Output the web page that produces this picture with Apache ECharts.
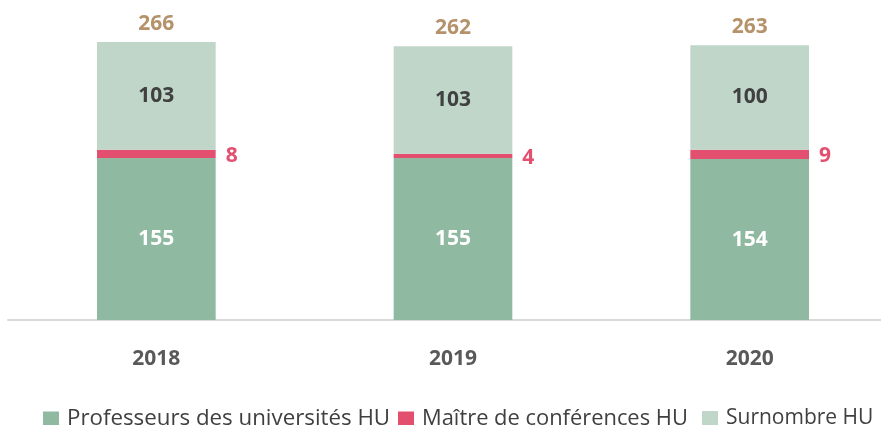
<!DOCTYPE html>
<html><head><meta charset="utf-8">
<script src="https://cdn.jsdelivr.net/npm/echarts@6/dist/echarts.min.js"></script>
<style>html,body{margin:0;padding:0;background:#fff;overflow:hidden}#c{width:898px;height:425px}</style>
</head><body><div id="c"></div>
<script>
const categories = ['2018', '2019', '2020'];
const professeurs = [155, 155, 154];
const maitres = [8, 4, 9];
const surnombre = [103, 103, 100];
const totals = [266, 262, 263];
const seriesNames = ['Professeurs des universités HU', 'Maître de conférences HU', 'Surnombre HU'];

const FONT = '"Open Sans", sans-serif';
const legendLefts = [43, 398, 702];
const legendSizes = [22.3, 21.9, 21];
const chart = echarts.init(document.getElementById('c'));
chart.setOption({
  animation: false,
  textStyle: { fontFamily: FONT },
  grid: { left: 8, right: 0, top: 6.5, height: 313.5, containLabel: false },
  xAxis: {
    type: 'category', data: categories,
    axisLine: { lineStyle: { color: '#d9d9d9', width: 2 } },
    axisTick: { show: false },
    axisLabel: { color: '#595959', fontWeight: 'bold', fontSize: 21, margin: 29, fontFamily: FONT }
  },
  yAxis: { type: 'value', min: 0, max: 300, show: false, splitLine: { show: false } },
  legend: seriesNames.map((n, i) => ({
    data: [n], top: 408, left: legendLefts[i], padding: 0, itemWidth: 16, itemHeight: 15,
    icon: 'rect', selectedMode: false,
    textStyle: { color: '#404040', fontSize: legendSizes[i], fontFamily: FONT, padding: [0, 0, 0, 3] }
  })),
  series: [
    { name: seriesNames[0], type: 'bar', stack: 't', data: professeurs, barWidth: '40%',
      itemStyle: { color: '#8fb9a0' },
      label: { show: true, position: 'inside', color: '#fff', fontWeight: 'bold', fontSize: 21, fontFamily: FONT } },
    { name: seriesNames[1], type: 'bar', stack: 't', data: maitres,
      itemStyle: { color: '#e24f6f' },
      label: { show: true, position: 'right', distance: 10, offset: [0, 2], color: '#e24f6f', fontWeight: 'bold', fontSize: 21, fontFamily: FONT } },
    { name: seriesNames[2], type: 'bar', stack: 't', data: surnombre,
      itemStyle: { color: '#bfd6c9' },
      label: { show: true, position: 'inside', color: '#404040', fontWeight: 'bold', fontSize: 21, fontFamily: FONT } },
    { name: 'Total', type: 'bar', stack: 't', data: totals.map(() => 0),
      itemStyle: { color: 'transparent' },
      label: { show: true, position: 'top', distance: 8, color: '#b5926a', fontWeight: 'bold', fontSize: 21, fontFamily: FONT,
        formatter: p => totals[p.dataIndex] } }
  ]
});
</script></body></html>
